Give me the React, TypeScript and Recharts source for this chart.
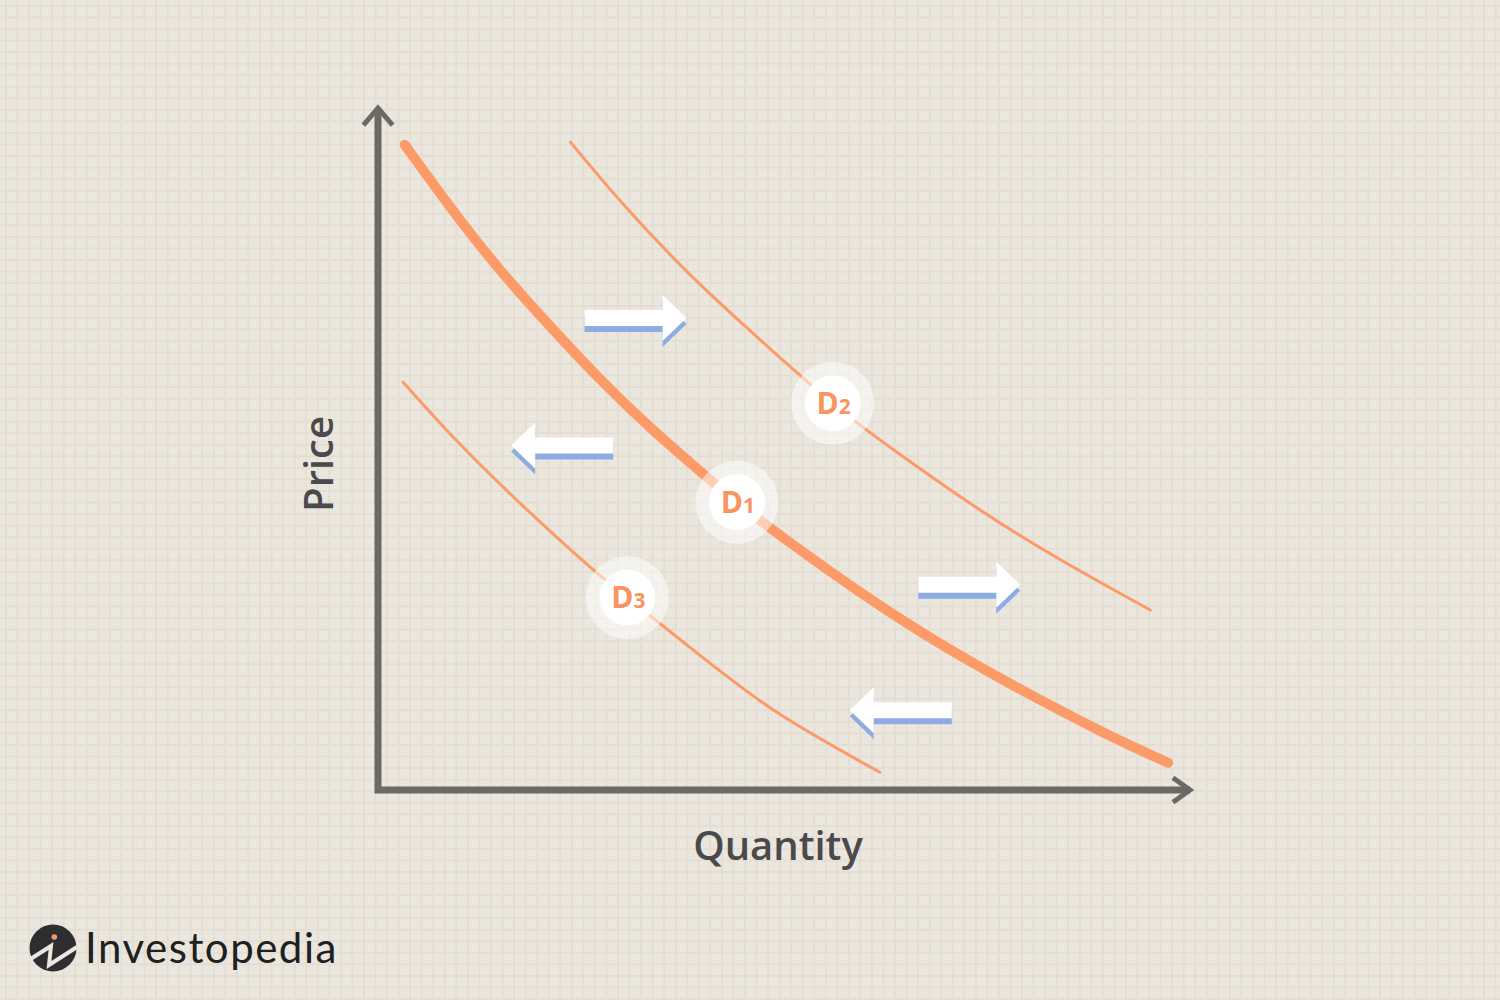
import React from 'react';
import { ComposedChart, Line, Scatter, XAxis, YAxis } from 'recharts';

// Demand curves (Quantity, Price), arbitrary units 0-100
const demandD1 = [
  { x: 3.3, y: 94.6 },
  { x: 8.9, y: 85.5 },
  { x: 15.0, y: 76.3 },
  { x: 21.2, y: 68.0 },
  { x: 27.3, y: 60.3 },
  { x: 33.5, y: 53.2 },
  { x: 39.7, y: 46.7 },
  { x: 44.2, y: 42.2 },
  { x: 52.0, y: 35.2 },
  { x: 64.3, y: 25.1 },
  { x: 76.6, y: 16.4 },
  { x: 88.9, y: 8.7 },
  { x: 97.3, y: 4.0 },
];

const demandD2 = [
  { x: 23.7, y: 95.0 },
  { x: 30.2, y: 85.9 },
  { x: 38.4, y: 75.6 },
  { x: 46.7, y: 66.4 },
  { x: 56.0, y: 56.7 },
  { x: 64.3, y: 49.2 },
  { x: 74.1, y: 41.1 },
  { x: 84.0, y: 33.8 },
  { x: 95.1, y: 26.4 },
];

const demandD3 = [
  { x: 3.1, y: 59.8 },
  { x: 9.7, y: 51.2 },
  { x: 17.9, y: 41.6 },
  { x: 26.1, y: 32.7 },
  { x: 30.7, y: 28.2 },
  { x: 39.7, y: 19.7 },
  { x: 49.5, y: 11.1 },
  { x: 61.8, y: 2.6 },
];

// Curve labels
const curveLabels = [
  { x: 56.0, y: 56.7, sub: '2' },
  { x: 44.2, y: 42.2, sub: '1' },
  { x: 30.7, y: 28.2, sub: '3' },
];

// Shift arrows (tip position, direction)
const shiftArrows = [
  { x: 38.0, y: 69.2, dir: 'right' },
  { x: 16.4, y: 50.5, dir: 'left' },
  { x: 79.1, y: 30.1, dir: 'right' },
  { x: 58.1, y: 11.7, dir: 'left' },
];

// Axes frame and arrowheads
const axisFrame = [
  { x: 0, y: 100 },
  { x: 0, y: 0 },
  { x: 100, y: 0 },
];
const yArrowHead = [
  { x: -1.8, y: 97.5 },
  { x: 0, y: 100 },
  { x: 1.8, y: 97.5 },
];
const xArrowHead = [
  { x: 97.9, y: 1.8 },
  { x: 100, y: 0 },
  { x: 97.9, y: -1.8 },
];

const axisTitles = { x: 'Quantity', y: 'Price' };
const brand = 'Investopedia';

const ORANGE = '#FC9A68';
const LABEL_ORANGE = '#F8945E';
const AXIS = '#6B6965';
const BLUE = '#8EACE4';
const TITLE = '#4A494B';

const LabelShape = (props: any) => {
  const { cx, cy, payload } = props;
  return (
    <g>
      <circle cx={cx} cy={cy} r={41.5} fill="#FFFFFF" fillOpacity={0.5} />
      <circle cx={cx} cy={cy} r={28} fill="#FFFFFF" />
      <text
        x={cx + 1}
        y={cy + 10.5}
        textAnchor="middle"
        fill={LABEL_ORANGE}
        fontFamily="'Open Sans', 'Noto Sans', sans-serif"
        fontWeight={700}
        fontSize={30}
      >
        D<tspan fontSize={21}>{payload.sub}</tspan>
      </text>
    </g>
  );
};

const arrowPoints = (tx: number, ty: number, s: number) => {
  const pts = [
    [-102, -8],
    [-24, -8],
    [-24, -23],
    [0, 0],
    [-24, 23],
    [-24, 8],
    [-102, 8],
  ];
  return pts.map(([dx, dy]) => `${tx + s * dx},${ty + dy}`).join(' ');
};

const ArrowShape = (props: any) => {
  const { cx, cy, payload } = props;
  const s = payload.dir === 'right' ? 1 : -1;
  return (
    <g>
      <polygon points={arrowPoints(cx, cy + 6, s)} fill={BLUE} />
      <polygon points={arrowPoints(cx, cy, s)} fill="#FFFFFF" />
    </g>
  );
};

export default function App() {
  return (
    <div
      style={{
        position: 'fixed',
        left: 0,
        top: 0,
        width: 1500,
        height: 1000,
        backgroundColor: '#EBE7DE',
        backgroundImage:
          'linear-gradient(to right, #E4DED2 2px, transparent 2px), linear-gradient(to bottom, #E4DED2 2px, transparent 2px)',
        backgroundSize: '11.55px 11.55px',
        backgroundPosition: '5px 5px',
        overflow: 'hidden',
      }}
    >
      <svg
        width={1500}
        height={1000}
        style={{ position: 'absolute', left: 0, top: 0 }}
      >
        <text
          x={778}
          y={860}
          textAnchor="middle"
          fill={TITLE}
          fontFamily="'Open Sans', 'Noto Sans', sans-serif"
          fontWeight={600}
          fontSize={40}
        >
          {axisTitles.x}
        </text>
        <text
          transform="translate(333,464) rotate(-90)"
          x={0}
          y={0}
          textAnchor="middle"
          fill={TITLE}
          fontFamily="'Open Sans', 'Noto Sans', sans-serif"
          fontWeight={600}
          fontSize={40}
        >
          {axisTitles.y}
        </text>
        <g>
          <circle cx={53} cy={948} r={23.5} fill="#2E2D30" />
          <polyline
            points="29,960 51,946 49,965 77,947"
            fill="none"
            stroke="#EBE7DE"
            strokeWidth={4}
            strokeLinejoin="miter"
          />
          <circle cx={54.3} cy={937} r={2.8} fill="#F59A6A" />
          <text
            x={85}
            y={963}
            fill="#202022"
            fontFamily="Lato, 'Noto Sans', sans-serif"
            fontWeight={400}
            fontSize={42}
            letterSpacing={1.5}
          >
            {brand}
          </text>
        </g>
      </svg>
      <div style={{ position: 'absolute', left: 0, top: 0 }}>
        <ComposedChart
          width={1500}
          height={1000}
          margin={{ top: 73.9, left: 337.4, right: 269.4, bottom: 175.9 }}
        >
          <XAxis type="number" dataKey="x" domain={[-5, 105]} hide allowDataOverflow />
          <YAxis type="number" dataKey="y" domain={[-5, 105]} hide allowDataOverflow />
          <Line
            data={axisFrame}
            dataKey="y"
            type="linear"
            stroke={AXIS}
            strokeWidth={7}
            strokeLinejoin="miter"
            strokeLinecap="butt"
            dot={false}
            activeDot={false}
            isAnimationActive={false}
          />
          <Line
            data={yArrowHead}
            dataKey="y"
            type="linear"
            stroke={AXIS}
            strokeWidth={5}
            strokeLinejoin="miter"
            dot={false}
            activeDot={false}
            isAnimationActive={false}
          />
          <Line
            data={xArrowHead}
            dataKey="y"
            type="linear"
            stroke={AXIS}
            strokeWidth={5}
            strokeLinejoin="miter"
            dot={false}
            activeDot={false}
            isAnimationActive={false}
          />
          <Line
            data={demandD2}
            dataKey="y"
            type="natural"
            stroke={ORANGE}
            strokeWidth={3}
            strokeLinecap="round"
            dot={false}
            activeDot={false}
            isAnimationActive={false}
          />
          <Line
            data={demandD3}
            dataKey="y"
            type="natural"
            stroke={ORANGE}
            strokeWidth={3}
            strokeLinecap="round"
            dot={false}
            activeDot={false}
            isAnimationActive={false}
          />
          <Line
            data={demandD1}
            dataKey="y"
            type="natural"
            stroke={ORANGE}
            strokeWidth={10}
            strokeLinecap="round"
            dot={false}
            activeDot={false}
            isAnimationActive={false}
          />
          <Scatter data={shiftArrows} shape={<ArrowShape />} isAnimationActive={false} />
          <Scatter data={curveLabels} shape={<LabelShape />} isAnimationActive={false} />
        </ComposedChart>
      </div>
    </div>
  );
}
